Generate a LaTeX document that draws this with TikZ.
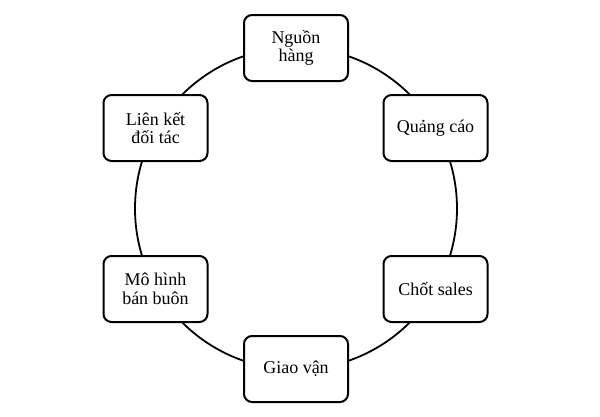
\documentclass[tikz,border=0pt]{standalone}
\usepackage{fontspec}
\setmainfont{Liberation Serif}
\begin{document}
\begin{tikzpicture}[x=1pt,y=-1pt,
  box/.style={draw=black, line width=2pt, fill=white, rounded corners=8pt,
    minimum width=104pt, minimum height=66pt, align=center, inner sep=2pt,
    font=\fontsize{18}{18.5}\selectfont},
  ring/.style={draw=black, line width=1.8pt}]
\useasboundingbox (0,0) rectangle (600,416);
\coordinate (c) at (296,208.5);
\draw[ring] (c) circle (161pt);
\node[box] (n1) at (296,48) {Nguồn\\hàng};
\node[box] (n2) at (435.5,128) {Quảng cáo};
\node[box] (n3) at (435.5,289) {Chốt sales};
\node[box] (n4) at (296,369) {Giao vận};
\node[box] (n5) at (155.5,289) {Mô hình\\bán buôn};
\node[box] (n6) at (155.5,128) {Liên kết\\đối tác};
\end{tikzpicture}
\end{document}
